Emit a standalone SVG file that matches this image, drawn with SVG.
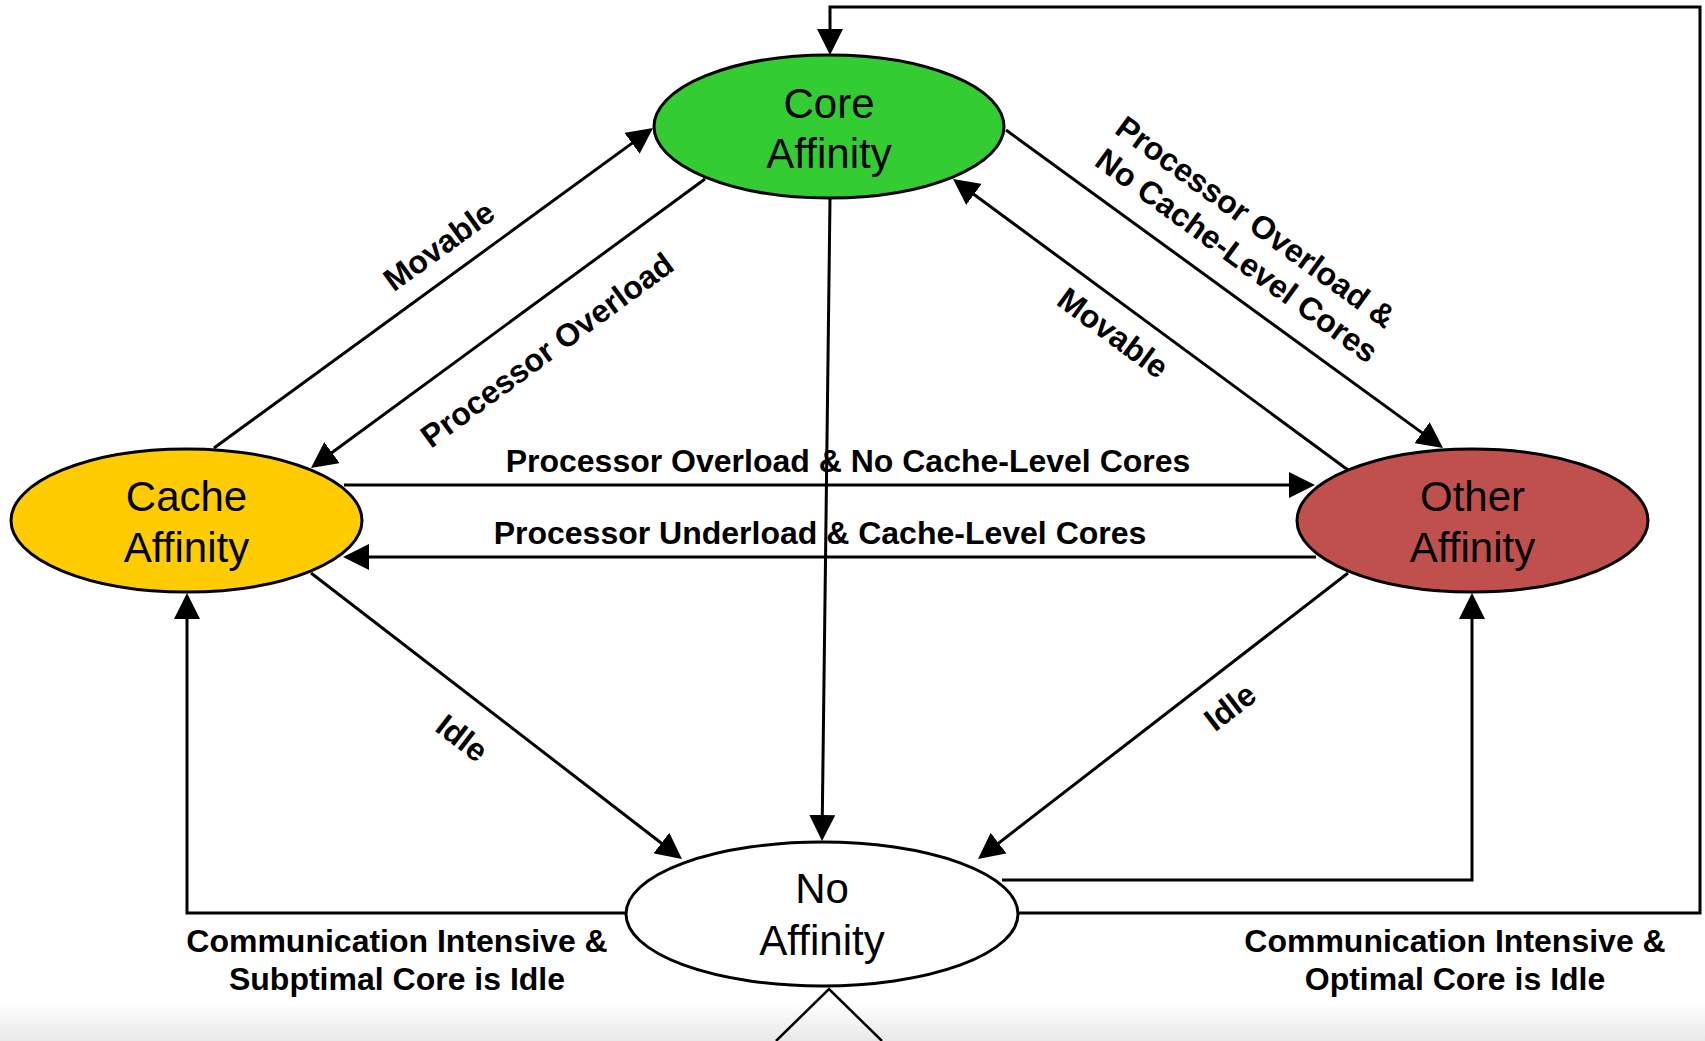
<svg xmlns="http://www.w3.org/2000/svg" width="1705" height="1041" viewBox="0 0 1705 1041">
  <defs>
    <marker id="arrow" markerUnits="userSpaceOnUse" markerWidth="26" markerHeight="26" viewBox="0 0 26 26" refX="10" refY="13" orient="auto">
      <path d="M0,0 L26,13 L0,26 Z" fill="#000"/>
    </marker>
    <linearGradient id="floor" x1="0" y1="0" x2="0" y2="1">
      <stop offset="0" stop-color="#ffffff"/>
      <stop offset="1" stop-color="#e8e8e8"/>
    </linearGradient>
    <style>
      .node { stroke: #000; stroke-width: 3; }
      .node-label { font-family: "Liberation Sans", Arial, sans-serif; font-size: 42px; fill: #000; text-anchor: middle; }
      .edge { fill: none; stroke: #000; stroke-width: 3; }
      .arrow { marker-end: url(#arrow); }
      .edge-label { font-family: "Liberation Sans", Arial, sans-serif; font-size: 32px; font-weight: bold; fill: #000; text-anchor: middle; }
    </style>
  </defs>

  <rect x="0" y="0" width="1705" height="1041" fill="#ffffff"/>
  <rect x="0" y="1003" width="1705" height="38" fill="url(#floor)"/>

  <!-- transitions -->
  <g id="connectors">
    <!-- Cache -> Core : Movable -->
    <line class="edge arrow" x1="214" y1="448" x2="640.1" y2="137.4"/>
    <!-- Core -> Cache : Processor Overload -->
    <line class="edge arrow" x1="705" y1="179" x2="323.9" y2="458.5"/>
    <!-- Core -> No -->
    <line class="edge arrow" x1="830" y1="199" x2="822.2" y2="825"/>
    <!-- Core -> Other -->
    <line class="edge arrow" x1="1006" y1="130" x2="1430.1" y2="438.6"/>
    <!-- Other -> Core : Movable -->
    <line class="edge arrow" x1="1348" y1="470" x2="965.9" y2="188.5"/>
    <!-- Cache -> No : Idle -->
    <line class="edge arrow" x1="311" y1="573" x2="669.3" y2="849.2"/>
    <!-- Other -> No : Idle -->
    <line class="edge arrow" x1="1348" y1="573" x2="990.7" y2="849.2"/>
    <!-- Cache <-> Other -->
    <line class="edge arrow" x1="344" y1="485" x2="1299" y2="485"/>
    <line class="edge arrow" x1="1316" y1="557" x2="359" y2="557"/>
    <!-- No -> Core (outer loop) -->
    <polyline class="edge arrow" points="1018,913 1700,913 1700,7 830,7 830,39"/>
    <!-- No -> Other -->
    <polyline class="edge arrow" points="1002,880 1472,880 1472,609"/>
    <!-- No -> Cache -->
    <polyline class="edge arrow" points="626,913 187,913 187,609"/>
  </g>

  <g id="edge-labels">
    <text class="edge-label" transform="translate(439,246) rotate(-36.1)" y="11">Movable</text>
    <text class="edge-label" transform="translate(547,350) rotate(-36.3)" y="11">Processor Overload</text>
    <text class="edge-label" transform="translate(1113,333) rotate(36.4)" y="11">Movable</text>
    <text class="edge-label" transform="translate(1248,240) rotate(36)">
      <tspan x="0" y="-8">Processor Overload &amp;</tspan>
      <tspan x="0" y="30">No Cache-Level Cores</tspan>
    </text>
    <text class="edge-label" transform="translate(462,738) rotate(37.6)" y="11">Idle</text>
    <text class="edge-label" transform="translate(1230,707) rotate(-37.7)" y="11">Idle</text>
    <text class="edge-label" x="848" y="472">Processor Overload &amp; No Cache-Level Cores</text>
    <text class="edge-label" x="820" y="544">Processor Underload &amp; Cache-Level Cores</text>
    <text class="edge-label" x="397" y="952">Communication Intensive &amp;</text>
    <text class="edge-label" x="397" y="990">Subptimal Core is Idle</text>
    <text class="edge-label" x="1455" y="952">Communication Intensive &amp;</text>
    <text class="edge-label" x="1455" y="990">Optimal Core is Idle</text>
  </g>

  <g id="core-affinity">
    <ellipse class="node" cx="829" cy="126.5" rx="175" ry="71.5" fill="#33cc33"/>
    <text class="node-label" x="829" y="118">Core</text>
    <text class="node-label" x="829" y="168">Affinity</text>
  </g>

  <g id="cache-affinity">
    <ellipse class="node" cx="186.5" cy="520.5" rx="175.5" ry="71.5" fill="#ffcc00"/>
    <text class="node-label" x="186.5" y="511">Cache</text>
    <text class="node-label" x="186.5" y="562">Affinity</text>
  </g>

  <g id="other-affinity">
    <ellipse class="node" cx="1472.5" cy="520.5" rx="175.5" ry="71.5" fill="#c0504d"/>
    <text class="node-label" x="1472.5" y="511">Other</text>
    <text class="node-label" x="1472.5" y="562">Affinity</text>
  </g>

  <g id="no-affinity">
    <ellipse class="node" cx="822" cy="914" rx="196" ry="72" fill="#ffffff"/>
    <text class="node-label" x="822" y="903">No</text>
    <text class="node-label" x="822" y="955">Affinity</text>
  </g>

  <!-- partial shape below the bottom state -->
  <polyline points="776,1041 829,989 882,1041" fill="none" stroke="#000" stroke-width="2.5"/>
</svg>
